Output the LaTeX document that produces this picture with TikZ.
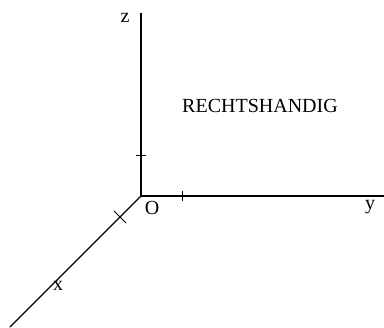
\documentclass[tikz,border=0pt]{standalone}
\usepackage{fontspec}
\setmainfont{Liberation Serif}
\usetikzlibrary{positioning,calc}

\begin{document}
\begin{tikzpicture}[
  x=0.5pt, y=0.5pt, font=\fontsize{10}{12}\selectfont,
  axis/.style={line width=0.6pt, draw=black},
  tick/.style={line width=0.5pt, draw=black},
  lbl/.style={inner sep=0pt, anchor=center},
]
\useasboundingbox (0,0) rectangle (384,327);
\coordinate (O) at (141,131);
\coordinate (zend) at (141,314);
\coordinate (yend) at (384,131);
\coordinate (xend) at (10,0);

% assen
\draw[axis] (O) -- (zend);
\draw[axis] (O) -- (yend);
\draw[axis] (O) -- (xend);

% eenheden
\coordinate (tz) at (141,172);
\coordinate (ty) at (182,131);
\coordinate (tx) at (120,110);
\draw[tick] ($(tz)+(-5,0)$) -- ($(tz)+(5,0)$);
\draw[tick] ($(ty)+(0,-5)$) -- ($(ty)+(0,5)$);
\draw[tick] ($(tx)+(-6,6)$) -- ($(tx)+(6,-6)$);

\node[lbl] (zlab) at (125,309) {z};
\node[lbl] (ylab) at (370,120) {y};
\node[lbl] (xlab) at (58,41) {x};
\node[lbl] (olab) at (152,119) {O};
\node[lbl] (title) at (260,221) {RECHTSHANDIG};
\end{tikzpicture}
\end{document}
